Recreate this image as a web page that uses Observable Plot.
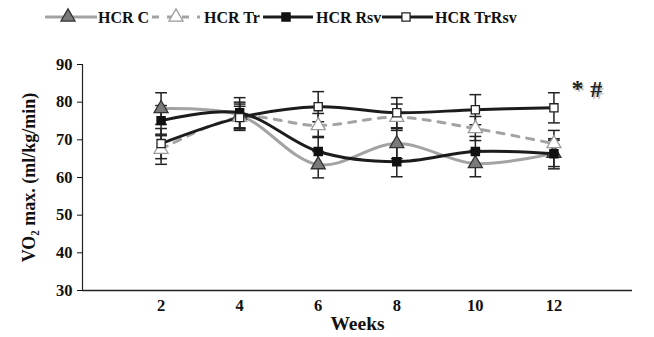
<!DOCTYPE html>
<html><head><meta charset="utf-8">
<script src="https://cdn.jsdelivr.net/npm/d3@7"></script>
<script src="https://cdn.jsdelivr.net/npm/@observablehq/plot@0.6"></script>
<style>
body{margin:0;background:#fff;font-family:"Liberation Serif","Times New Roman",serif;}
#legend{display:block}
</style></head>
<body>
<svg id="legend" width="654" height="36"></svg>
<div id="chart"></div>
<script>
const weeks = [2, 4, 6, 8, 10, 12];
const seriesNames = ["HCR C", "HCR Tr", "HCR Rsv", "HCR TrRsv"];
const hcrC     = [78.3, 76.5, 63.4, 69.0, 63.7, 66.4];
const hcrTr    = [67.5, 76.0, 73.8, 76.0, 73.0, 69.0];
const hcrRsv   = [75.1, 77.2, 66.9, 64.2, 66.9, 66.3];
const hcrTrRsv = [69.0, 75.9, 78.8, 77.2, 78.0, 78.5];
const errC     = [4.2, 3.5, 3.5, 4.0, 3.5, 3.5];
const errTr    = [4.0, 3.5, 3.2, 3.5, 3.2, 3.5];
const errRsv   = [4.0, 4.0, 4.0, 4.0, 4.0, 4.0];
const errTrRsv = [4.0, 3.0, 4.0, 4.0, 4.0, 4.0];
const annotLabels = ["*", "#"];
const annotWeeks = [12.6, 13.08];
const annotValues = [83.6, 83.4];

const values = [hcrC, hcrTr, hcrRsv, hcrTrRsv];
const errs = [errC, errTr, errRsv, errTrRsv];
const styles = {
  "HCR C":     {stroke:"#a3a3a3", dash:null, symbol:"triangle", fill:"#7a7a7a", mstroke:"#333", r:5.2},
  "HCR Tr":    {stroke:"#a3a3a3", dash:"7,8", symbol:"triangle", fill:"#fff", mstroke:"#9a9a9a", r:5.2},
  "HCR Rsv":   {stroke:"#1c1c1c", dash:null, symbol:"square", fill:"#111", mstroke:"#111", r:4.6},
  "HCR TrRsv": {stroke:"#1c1c1c", dash:null, symbol:"square", fill:"#fff", mstroke:"#222", r:4.6}
};
const data = [];
seriesNames.forEach((s, i) => weeks.forEach((w, j) => data.push({series:s, week:w, v:values[i][j], e:errs[i][j]})));
const annots = annotLabels.map((t, i) => ({t, week:annotWeeks[i], v:annotValues[i]}));

const font = "Liberation Serif";
const marks = [
  Plot.ruleY([30], {stroke:"#222", strokeWidth:1.5}),
  Plot.ruleX([0], {stroke:"#222", strokeWidth:1.2}),
  Plot.axisY({ticks:[30,40,50,60,70,80,90], tickSize:5, tickPadding:5, label:null, fontSize:16.5, fontWeight:"bold", tickFormat:d=>d}),
  Plot.axisX({ticks:weeks, tickSize:0, tickPadding:9, label:null, fontSize:16.5, fontWeight:"bold", tickFormat:d=>d}),
  Plot.text(["VO₂ max. (ml/kg/min)"], {frameAnchor:"left", textAnchor:"middle", rotate:-90, dx:-53, fontSize:18, fontWeight:"bold", fill:"#111"}),
  Plot.text(["Weeks"], {frameAnchor:"bottom", textAnchor:"middle", dy:39, fontSize:19.5, fontWeight:"bold", fill:"#111"})
];
for (const s of seriesNames) {
  const st = styles[s];
  marks.push(Plot.line(data.filter(d=>d.series===s), {x:"week", y:"v", curve:"catmull-rom", stroke:st.stroke, strokeWidth:3, strokeDasharray:st.dash}));
}
for (const s of seriesNames) {
  const sd = data.filter(d=>d.series===s);
  marks.push(Plot.ruleX(sd, {x:"week", y1:d=>d.v-d.e, y2:d=>d.v+d.e, stroke:"#222", strokeWidth:1.5}));
  marks.push(Plot.link(sd, {x1:d=>d.week-0.15, x2:d=>d.week+0.15, y1:d=>d.v+d.e, y2:d=>d.v+d.e, stroke:"#222", strokeWidth:1.5}));
  marks.push(Plot.link(sd, {x1:d=>d.week-0.15, x2:d=>d.week+0.15, y1:d=>d.v-d.e, y2:d=>d.v-d.e, stroke:"#222", strokeWidth:1.5}));
}
for (const s of seriesNames) {
  const st = styles[s];
  marks.push(Plot.dot(data.filter(d=>d.series===s), {x:"week", y:"v", symbol:st.symbol, r:st.r, fill:st.fill, stroke:st.mstroke, strokeWidth:1.3}));
}
marks.push(Plot.text(annots, {x:"week", y:"v", text:"t", fontSize:24, fontWeight:"bold", fill:"#c4c4c4", dx:1.5, dy:1.5}));
marks.push(Plot.text(annots, {x:"week", y:"v", text:"t", fontSize:24, fontWeight:"bold", fill:"#222"}));

const chart = Plot.plot({
  width:654, height:301,
  marginLeft:82, marginRight:22, marginTop:28, marginBottom:47,
  style:{fontFamily:font, color:"#111", background:"#fff"},
  x:{domain:[0,14], axis:null},
  y:{domain:[30,90], axis:null},
  marks
});
document.getElementById("chart").appendChild(chart);

// legend
const lg = d3.select("#legend");
const legendItems = [
  {s:"HCR C", x0:45, x1:97, mx:68, tx:98},
  {s:"HCR Tr", x0:152, x1:200, mx:176, tx:204},
  {s:"HCR Rsv", x0:263, x1:313, mx:286, tx:316},
  {s:"HCR TrRsv", x0:382, x1:433, mx:406, tx:435}
];
const ly = 17;
legendItems.forEach(it => {
  const st = styles[it.s];
  lg.append("line").attr("x1", it.x0).attr("x2", it.x1).attr("y1", ly).attr("y2", ly)
    .attr("stroke", st.stroke).attr("stroke-width", 3).attr("stroke-dasharray", st.dash ? "7,8" : null);
  const sym = st.symbol === "triangle" ? d3.symbolTriangle : d3.symbolSquare;
  lg.append("path").attr("d", d3.symbol(sym, Math.PI*st.r*st.r)()).attr("transform", `translate(${it.mx},${ly})`)
    .attr("fill", st.fill).attr("stroke", st.mstroke).attr("stroke-width", 1.3);
  lg.append("text").attr("x", it.tx).attr("y", ly).attr("dy", "0.35em").attr("font-family", font)
    .attr("font-weight", "bold").attr("font-size", 16).attr("fill", "#111").text(it.s);
});
</script>
</body></html>
